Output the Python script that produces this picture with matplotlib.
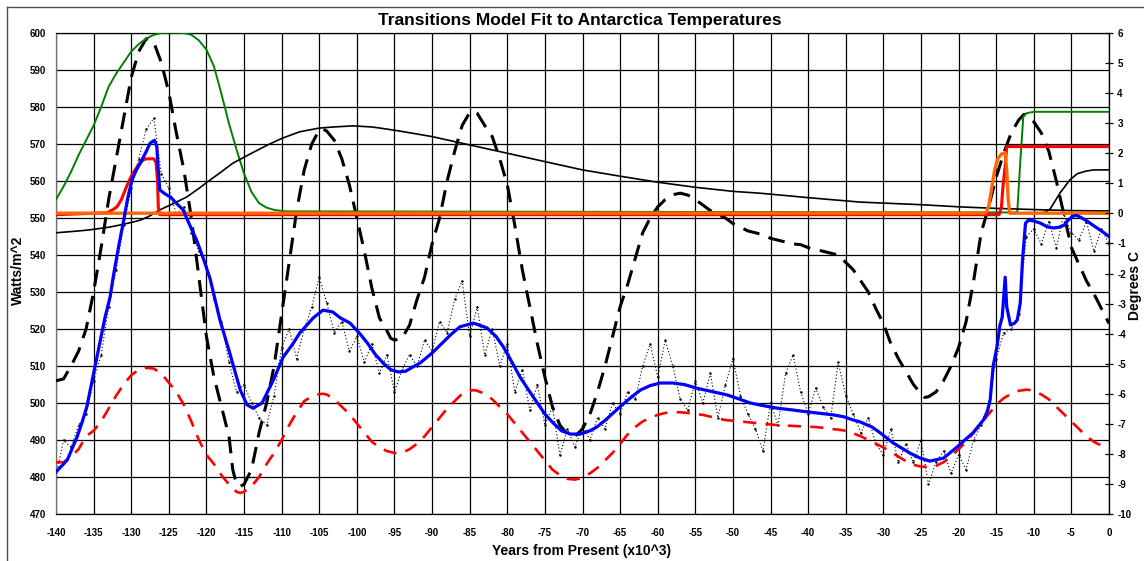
import numpy as np
import matplotlib
matplotlib.use('Agg')
import matplotlib.pyplot as plt
from matplotlib.lines import Line2D

plt.rcParams['font.family'] = ['Liberation Sans', 'DejaVu Sans']
plt.rcParams['font.weight'] = 'bold'
plt.rcParams['axes.unicode_minus'] = False

# insolation (black dashed)
ins_x = [-140, -139, -138, -137, -136, -135, -134, -133, -132, -131, -130, -129, -128, -127, -126, -125, -124, -123, -122, -121,
         -120, -119, -118, -117, -116.5, -116, -115.5, -115, -114, -113, -112, -111, -110, -109, -108, -107, -106, -105, -104.5, -104,
         -103, -102, -101, -100, -99, -98, -97, -96, -95.5, -95, -94, -93, -92, -91, -90, -89, -88, -87, -86, -85,
         -84.5, -84, -83, -82, -81, -80, -79, -78, -77, -76, -75, -74, -73, -72, -71, -70, -69, -68, -67, -66,
         -65, -64, -63, -62, -61, -60, -59, -58, -57, -56, -55, -54, -53, -52, -51, -50, -49, -48, -47, -46,
         -45, -44, -43, -42, -41, -40, -39, -38, -37, -36, -35, -34, -33, -32, -31, -30, -29, -28, -27, -26,
         -25, -24.5, -24, -23, -22, -21, -20, -19, -18, -17, -16, -15, -14, -13, -12, -11.3, -10.5, -10, -9, -8,
         -7, -6, -5, -4, -3, -2, -1, 0]
ins_y = [506, 506.5, 510, 514, 520, 530, 542, 555, 566, 577, 588, 595, 598.5, 597.5, 592, 584, 573, 563, 550, 534,
         518, 507, 499, 491, 482, 478, 477.5, 478, 482, 492, 500, 510, 524, 538, 552, 563, 570, 573.8, 574, 573.5,
         571, 566, 559, 550, 541, 531, 523, 519.5, 517.5, 517, 517.5, 521, 528, 534, 543, 550, 560, 568, 575, 578.5,
         578.8, 578.3, 575, 572, 566, 559, 548, 536, 526, 516, 507, 499, 494, 491.5, 491, 493, 497, 503, 510, 518,
         526, 532, 539, 546, 550, 553, 555, 556.3, 556.7, 556.2, 555, 553.5, 552, 551, 550, 548.5, 547.5, 546.5, 546, 545.5,
         544.5, 544, 543.5, 543, 542.8, 542, 541.5, 541, 540.5, 540, 538, 536, 533, 530, 525.5, 521.5, 516, 512, 508.5, 505,
         502.5, 501.5, 501.7, 503, 506, 510, 515, 522, 533, 546, 553, 561, 567.5, 573, 576.5, 578, 577, 576, 573, 568,
         560, 551, 542, 537.5, 533, 529.5, 525.5, 521.5]

# model output (red dashed)
mod_x = [-140, -139, -138, -137, -136, -135, -134, -133, -132, -131, -130, -129, -128, -127, -126, -125, -124, -123, -122, -121,
         -120, -119, -118, -117, -116, -115.5, -115, -114, -113, -112, -111, -110, -109, -108, -107, -106, -105, -104.5, -104, -103,
         -102, -101, -100, -99, -98, -97, -96, -95, -94, -93, -92, -91, -90, -89, -88, -87, -86, -85, -84.5, -84,
         -83, -82, -81, -80, -79, -78, -77, -76, -75, -74, -73, -72, -71, -70, -69, -68, -67, -66, -65, -64,
         -63, -62, -61, -60, -59, -58, -57, -56, -55, -54, -53, -52, -51, -50, -49, -48, -47, -46, -45, -44,
         -43, -42, -41, -40, -39, -38, -37, -36, -35, -34, -33, -32, -31, -30, -29, -28, -27, -26, -25, -24,
         -23, -22, -21, -20, -19, -18, -17, -16, -15, -14, -13, -12, -11, -10.5, -10, -9, -8, -7, -6, -5,
         -4, -3, -2, -1, 0]
mod_y = [484, 484, 485.5, 487.5, 491, 492.5, 495, 498.5, 502, 505, 507.5, 509, 509.5, 509.3, 508, 505.5, 503, 499.5, 495, 490,
         486, 483.5, 480.5, 478, 476, 475.7, 476, 477.5, 480, 483.5, 486.5, 490, 494, 497.5, 500.5, 501.8, 502.4, 502.5, 502.3, 501,
         499, 497, 494.5, 492, 489.5, 488, 487, 486.5, 486.5, 487.5, 489, 491, 493.5, 496, 498.5, 500.5, 502.5, 503.3, 503.5, 503.3,
         502.5, 501, 499, 497, 494.5, 492, 489.5, 487, 484.5, 482, 480.5, 479.5, 479.3, 479.8, 481, 482.5, 484.5, 486.5, 489, 491.5,
         493.5, 495, 496, 496.8, 497.3, 497.5, 497.5, 497.3, 497, 496.8, 496.3, 495.8, 495.4, 495.2, 495, 494.8, 494.6, 494.4, 494.2, 494,
         493.9, 493.8, 493.7, 493.6, 493.5, 493.3, 493, 492.8, 492.5, 491.8, 491, 490, 489, 488, 486.8, 485.5, 484.3, 483.3, 482.8, 482.7,
         483, 484, 485.5, 487.5, 489.5, 492, 494.5, 497, 499.5, 501.3, 502.5, 503.3, 503.6, 503.5, 503.2, 502.3, 501, 499, 497, 495,
         493, 491, 489.5, 488.5, 487.8]

# green transition
grn_x = [-140, -139, -138, -137, -136, -135, -134, -133, -132, -131, -130, -129, -128, -127, -126, -125, -124, -123, -122, -121,
         -120, -119, -118, -117, -116, -115, -114, -113, -112, -111, -110, -109.5, -12.5, -12.2, -11.8, -11.4, -11, -10, 0]
grn_y = [555, 558.5, 562.5, 567, 571, 575, 580, 585.5, 589, 592, 595, 597, 598.5, 599.5, 600, 600.1, 600.1, 600, 599.5, 598,
         595.5, 591, 583.5, 575.5, 568.5, 562, 557, 554, 552.8, 552.2, 551.9, 551.8, 551.5, 551.6, 565, 577.3, 578.3, 578.7, 578.7]

# black solid (long term forcing)
blk_x = [-140, -137, -135.5, -133, -131.5, -130, -128.8, -127.5, -126.2, -124.5, -122.6, -121, -119.9, -118, -116.5, -114, -111.9, -110,
         -107.6, -105, -103.1, -100.5, -98, -96.9, -94.3, -90, -84.9, -80, -74.7, -70, -65, -60.1, -55, -50, -46.4, -43.7,
         -40, -33.1, -25, -19.8, -15, -8.7, -5, 0]
blk_y = [546, 546.5, 546.8, 547.5, 548.1, 548.8, 549.4, 550.6, 552.2, 553.8, 555.7, 558, 559.7, 562.5, 564.8, 567.5, 569.7, 571.5,
         573.3, 574.3, 574.6, 574.9, 574.6, 574.3, 573.5, 572, 569.7, 567.5, 565.1, 563, 561.3, 559.7, 558.3, 557.2, 556.7, 556.2,
         555.5, 554.3, 553.6, 553, 552.6, 552.2, 552, 551.9]

# black solid step (recent)
stp_x = [-10, -8.5, -7.8, -6.5, -5.2, -4.2, -3, -2, 0]
stp_y = [551.3, 551.5, 552.5, 556.8, 560.3, 562, 562.7, 563, 563]

# red transition
red_x = [-140, -133.2, -132.5, -131.9, -131.3, -130.8, -130.3, -129.8, -129, -128.4, -128, -127, -126.7, -126.5, -126.4, -126.2,
         -14.6, -14.3, -14.1, -13.8, -13.6, 0]
red_y = [550.9, 551.4, 552.2, 553, 555, 557.6, 560, 562, 564.5, 565.7, 566, 566, 565, 560, 553, 550.9,
         550.9, 553, 558.5, 564, 569.3, 569.3]

# orange transition
org_x = [-140, -16.4, -16, -15.6, -15.2, -14.8, -14.3, -13.8, -13.6, -13.4, -13.2, 0]
org_y = [551.3, 551.3, 553, 558, 563, 566, 567.3, 567.6, 563, 555, 551.3, 551.3]

# fitted temperature (blue)
fit_x = [-140, -139, -138.5, -138, -137.2, -136.5, -135.9, -135, -134.1, -133.5, -132.8, -132.4, -131.7, -131, -130.5, -129.9,
         -129.3, -128.8, -128, -127.5, -126.9, -126.6, -126.4, -126.2, -125.5, -124.8, -124, -123.1, -122.2, -121.3, -120.4,
         -119.5, -118.2, -116.9, -115.5, -114.6, -113.8, -112.6, -111.1, -109.8, -108.5, -107.6, -105.8, -104.5, -103.2, -102.2,
         -100.9, -99.5, -98.6, -97.5, -96.5, -95.5, -94.5, -93.5, -92.5, -91.6, -90, -88.9, -87.5, -86.3, -84.5, -82.7, -81.5,
         -80.5, -79.5, -78.3, -77, -76, -75, -73.9, -72.8, -71.6, -70.3, -69, -68.1, -67, -65, -63.5, -62.3, -61, -59.7, -58,
         -56.5, -54.8, -52.8, -50.8, -49.2, -47.7, -46, -44.1, -42, -40.1, -38.4, -36.7, -35.3, -34, -33.1, -31.5, -30.4,
         -28.7, -27.8, -26.5, -25.1, -23.8, -22, -20.2, -19, -18.1, -16.7, -16.2, -15.8, -15.4, -14.9, -14.5, -14.2, -13.8,
         -13.6, -13.1, -12.6, -12.2, -11.8, -11.5, -11.1, -10.7, -10, -9.1, -8.2, -7.4, -6.7, -6, -5.4, -4.8, -4.3, -3.8,
         -3, -2.1, -1, 0]
fit_y = [481.4, 483.5, 484.6, 487, 490.8, 495, 499, 508, 517, 523, 528.7, 534, 542, 549.4, 555, 560.3,
         563, 564.8, 568, 570.2, 571, 569.3, 563, 557.6, 556.5, 555.7, 554, 552.2, 548, 544, 539,
         533.5, 522.4, 513.5, 503.5, 499.5, 498.6, 500, 506.2, 512.4, 516, 518.9, 523, 525.1, 524.6, 523,
         521.6, 518.5, 516.2, 513, 510.8, 509, 508.4, 508.6, 509.8, 510.8, 513.5, 515.7, 518.5, 520.6, 521.6, 520.3, 518,
         515.1, 511.5, 507, 503, 500, 497, 494.6, 492.5, 491.6, 491.6, 492.5, 493.5, 495.3, 499, 501.6, 503.5, 504.7, 505.4, 505.4,
         505, 504, 503.1, 502.2, 501.1, 500, 499.3, 498.6, 498.1, 497.6, 497.2, 496.8, 496.3, 495.4, 494.9, 493.5, 491.9,
         489.2, 488.1, 486.5, 485.1, 484.3, 485.1, 488.1, 490.3, 491.9, 495.4, 497.5, 500.8, 510, 515.1, 521, 523.2, 534,
         526, 521.1, 521.5, 522.4, 527, 538.6, 548.6, 549.4, 549.2, 548.6, 547.6, 547.3, 547.5, 548, 549.5, 550.5, 550.7, 550.2,
         549.3, 548, 546.5, 545]

# measured antarctic temperature (dots)
obs_x = list(range(-140, 1))
obs_y = [480, 490, 488, 494, 497, 506, 513, 526, 536, 548, 558, 566, 574, 577, 562, 558, 551, 553, 546, 541,
         537, 528, 522, 511, 503, 505, 500, 496, 494, 502, 515, 520, 512, 520, 526, 534, 527, 519, 522, 514,
         518, 511, 516, 508, 513, 503, 509, 513, 510, 517, 514, 522, 519, 528, 533, 518, 526, 513, 520, 510,
         516, 503, 509, 498, 505, 494, 499, 486, 493, 488, 494, 490, 496, 493, 500, 497, 503, 501, 510, 516,
         507, 517, 510, 501, 498, 506, 500, 508, 496, 505, 512, 502, 497, 493, 487, 500, 494, 508, 513, 503,
         497, 504, 499, 496, 511, 502, 497, 492, 496, 489, 486, 493, 484, 489, 484, 490, 478, 484, 487, 481,
         486, 482, 490, 494, 500, 512, 519, 520, 524, 545, 547, 543, 549, 542, 551, 546, 544, 549, 541, 547, 543]

fig = plt.figure(figsize=(11.44, 5.61), dpi=100)
fig.patch.set_facecolor('white')
ax = fig.add_axes([56 / 1144, 1 - 514 / 561, 1053 / 1144, 481 / 561])

ax.plot(obs_x, obs_y, color='black', lw=0.8, ls=(0, (1, 2)), marker='.', ms=1.5, zorder=2)
ax.plot(ins_x, ins_y, color='black', lw=2.2, dashes=(5.5, 3.2), zorder=3)
ax.plot(mod_x, mod_y, color='#ff0000', lw=1.9, dashes=(5, 3.5), zorder=3)
ax.plot(grn_x, grn_y, color='#008000', lw=1.4, zorder=4)
ax.plot(blk_x, blk_y, color='black', lw=1.2, zorder=4)
ax.plot(stp_x, stp_y, color='black', lw=1.2, zorder=4)
ax.plot(red_x, red_y, color='#ff0000', lw=2.2, zorder=5)
ax.plot(org_x, org_y, color='#ff6600', lw=2.4, zorder=6)
ax.plot(fit_x, fit_y, color='#0000ff', lw=2.3, zorder=7)

ax.set_xlim(-140, 0)
ax.set_ylim(470, 600)
ax.set_xticks(np.arange(-140, 1, 5))
ax.set_yticks(np.arange(470, 601, 10))
ax.grid(True, color='black', lw=0.9)
ax.set_axisbelow(True)
ax.tick_params(axis='x', length=0, labelsize=7, pad=10)
ax.tick_params(axis='y', length=0, labelsize=7, pad=7)
for lab in ax.get_xticklabels() + ax.get_yticklabels():
    lab.set_fontweight('bold')
for s in ax.spines.values():
    s.set_color('black')
    s.set_linewidth(0.9)
ax.spines['left'].set_color('#707070')

ax2 = ax.twinx()
ax2.set_ylim(-10, 6)
ax2.set_yticks(np.arange(-10, 7, 1))
ax2.tick_params(axis='y', direction='inout', length=6, width=0.9, labelsize=7, pad=3)
for lab in ax2.get_yticklabels():
    lab.set_fontweight('bold')
for s in ax2.spines.values():
    s.set_visible(False)
ax2.spines['right'].set_visible(True)
ax2.spines['right'].set_color('black')

# axis titles placed like the original sheet
fig.text(18 / 1144, 1 - 270 / 561, 'Watts/m^2', rotation=90, ha='center', va='center',
         fontsize=10, fontweight='bold')
fig.text(1135 / 1144, 1 - 285 / 561, 'Degrees C', rotation=90, ha='center', va='center',
         fontsize=10, fontweight='bold')
fig.text(582 / 1144, 1 - 551 / 561, 'Years from Present (x10^3)', ha='center', va='center',
         fontsize=10, fontweight='bold')
fig.text(0.507, 1 - 20 / 561, 'Transitions Model Fit to Antarctica Temperatures',
         ha='center', va='center', fontsize=12.5, fontweight='bold')

# outer frame of the chart area
fig.add_artist(Line2D([7 / 1144, 1], [1 - 7 / 561, 1 - 7 / 561], color='#505050', lw=1))
fig.add_artist(Line2D([7 / 1144, 7 / 1144], [0, 1 - 7 / 561], color='#505050', lw=1))

fig.savefig('out.png', dpi=100)
